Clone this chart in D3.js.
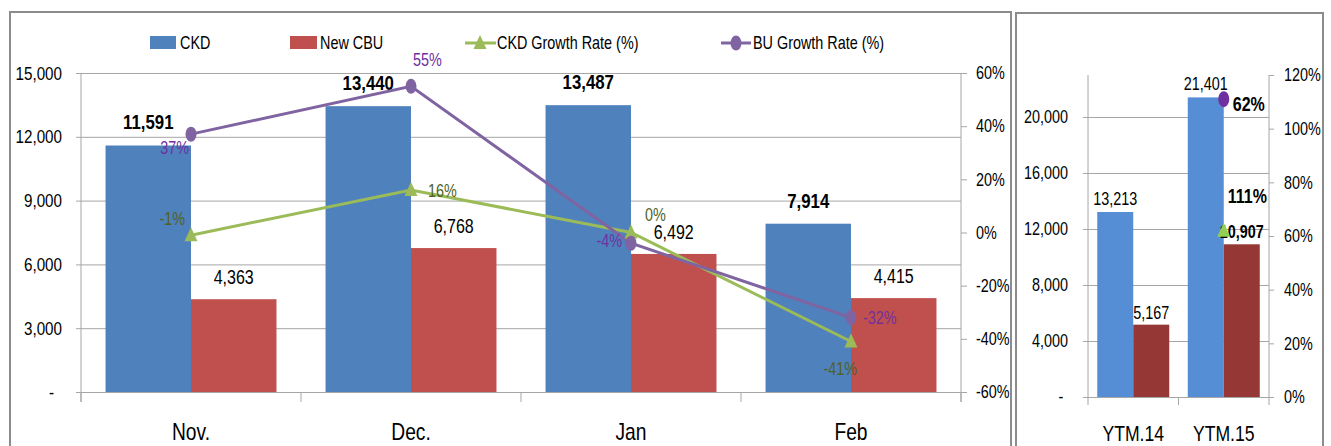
<!doctype html>
<html lang="en">

<head>
    <meta charset="utf-8">
    <title>CKD / New CBU monthly and YTM</title>
    <script src="https://cdn.jsdelivr.net/npm/d3@7"></script>
    <style>
        body {
            margin: 0;
            background: #ffffff;
        }

        svg {
            display: block;
            font-family: "Liberation Sans", Arial, sans-serif;
        }
    </style>
</head>

<body>
    <svg></svg>
    <script>
        var width = 1331;
        var height = 446;
        // the original uses a narrow font, so every text gets squeezed horizontally
        var squeezeX = 0.8;

        // monthly panel
        var categories = ["Nov.", "Dec.", "Jan", "Feb"];
        var ckd = [11591, 13440, 13487, 7914];
        var newCbu = [4363, 6768, 6492, 4415];
        var ckdGrowth = [-1, 16, 0, -41];
        var buGrowth = [37, 55, -4, -32];
        var leftTicks = [0, 3000, 6000, 9000, 12000, 15000];
        var rightTicks = [-60, -40, -20, 0, 20, 40, 60];
        var legendLabels = ["CKD", "New CBU", "CKD Growth Rate (%)", "BU Growth Rate (%)"];

        // year-to-month panel
        var ytmCategories = ["YTM.14", "YTM.15"];
        var ytmCkd = [13213, 21401];
        var ytmCbu = [5167, 10907];
        var ytmCkdGrowth = 62;
        var ytmBuGrowth = 111;
        var ytmLeftTicks = [0, 4000, 8000, 12000, 16000, 20000];
        var ytmRightTicks = [0, 20, 40, 60, 80, 100, 120];

        var numFmt = function (d) { return d === 0 ? "-" : d3.format(",")(d); };
        var pctFmt = function (d) { return d + "%"; };

        var svg = d3.select('svg').attr('width', width).attr('height', height);

        // panel frames
        svg.append("rect").attr("x", 10).attr("y", 12).attr("width", 1001).attr("height", 450)
            .attr("fill", "none").attr("stroke", "#8c8c8c").attr("stroke-width", 2);
        svg.append("rect").attr("x", 1016).attr("y", 13).attr("width", 307).attr("height", 450)
            .attr("fill", "none").attr("stroke", "#8c8c8c").attr("stroke-width", 2);

        // ---------- monthly panel ----------
        var xScale = d3.scaleBand().domain(categories).range([81, 961]);
        var xInner = d3.scaleBand().domain(["ckd", "cbu"]).range([0, xScale.bandwidth()])
            .paddingInner(0).paddingOuter(0.287);
        var yScale = d3.scaleLinear().domain([0, 15000]).range([392, 73]);
        var yRight = d3.scaleLinear().domain([-60, 60]).range([392, 73]);

        // gridlines
        svg.append("g")
            .attr("transform", "translate(81,0)")
            .call(d3.axisLeft(yScale).tickValues(leftTicks).tickSize(-880).tickFormat(""))
            .call(function (g) { g.select(".domain").remove(); })
            .selectAll("line").attr("stroke", "#a6a6a6");

        // left axis
        var gLeft = svg.append("g")
            .attr("transform", "translate(81,0)")
            .call(d3.axisLeft(yScale).tickValues(leftTicks).tickSize(5).tickPadding(14).tickFormat(numFmt));
        gLeft.select(".domain").remove();
        gLeft.selectAll("line").attr("stroke", "#a6a6a6");
        gLeft.selectAll("text").attr("font-size", "19px").attr("fill", "#000")
            .attr("font-family", null)
            .attr("dx", function (d) { return d === 0 ? -10 : 0; });

        svg.append("line").attr("x1", 81).attr("x2", 81).attr("y1", 73).attr("y2", 402)
            .attr("stroke", "#a6a6a6");

        // right axis
        var gRight = svg.append("g")
            .attr("transform", "translate(961,0)")
            .call(d3.axisRight(yRight).tickValues(rightTicks).tickSize(6).tickPadding(9).tickFormat(pctFmt));
        gRight.select(".domain").remove();
        gRight.selectAll("line").attr("stroke", "#a6a6a6");
        gRight.selectAll("text").attr("font-size", "18px").attr("fill", "#000").attr("font-family", null);
        svg.append("line").attr("x1", 961).attr("x2", 961).attr("y1", 73).attr("y2", 402)
            .attr("stroke", "#a6a6a6");

        // category axis: labels at centres, ticks at band edges
        var gBottom = svg.append("g")
            .attr("transform", "translate(0,392)")
            .call(d3.axisBottom(xScale).tickSize(0).tickPadding(31));
        gBottom.select(".domain").remove();
        gBottom.selectAll("text").attr("font-size", "24px").attr("fill", "#000").attr("font-family", null);
        var edges = categories.map(function (c) { return xScale(c); }).concat([xScale.range()[1]]);
        svg.selectAll(".catTick")
            .data(edges)
            .enter()
            .append("line")
            .attr("class", "catTick")
            .attr("x1", function (d) { return d; })
            .attr("x2", function (d) { return d; })
            .attr("y1", 392)
            .attr("y2", 402)
            .attr("stroke", "#a6a6a6");

        // bars
        svg.selectAll(".ckdBar")
            .data(ckd)
            .enter()
            .append("rect")
            .attr("class", "ckdBar")
            .attr("x", function (d, i) { return xScale(categories[i]) + xInner("ckd"); })
            .attr("y", function (d) { return yScale(d); })
            .attr("width", xInner.bandwidth())
            .attr("height", function (d) { return yScale(0) - yScale(d); })
            .attr("fill", "#4f81bd");

        svg.selectAll(".cbuBar")
            .data(newCbu)
            .enter()
            .append("rect")
            .attr("class", "cbuBar")
            .attr("x", function (d, i) { return xScale(categories[i]) + xInner("cbu"); })
            .attr("y", function (d) { return yScale(d); })
            .attr("width", xInner.bandwidth())
            .attr("height", function (d) { return yScale(0) - yScale(d); })
            .attr("fill", "#c0504d");

        // bar labels
        svg.selectAll(".ckdLabel")
            .data(ckd)
            .enter()
            .append("text")
            .attr("class", "ckdLabel")
            .text(numFmt)
            .attr("x", function (d, i) { return xScale(categories[i]) + xInner("ckd") + xInner.bandwidth() / 2; })
            .attr("y", function (d) { return yScale(d) - 16; })
            .attr("text-anchor", "middle")
            .attr("font-size", "21px")
            .attr("font-weight", "bold")
            .attr("fill", "#000");

        svg.selectAll(".cbuLabel")
            .data(newCbu)
            .enter()
            .append("text")
            .attr("class", "cbuLabel")
            .text(numFmt)
            .attr("x", function (d, i) { return xScale(categories[i]) + xInner("cbu") + xInner.bandwidth() / 2; })
            .attr("y", function (d) { return yScale(d) - 15; })
            .attr("text-anchor", "middle")
            .attr("font-size", "20px")
            .attr("fill", "#000");

        // growth lines
        var xMid = function (i) { return xScale(categories[i]) + xScale.bandwidth() / 2; };
        var line = d3.line()
            .x(function (d, i) { return xMid(i); })
            .y(function (d) { return yRight(d); });

        svg.append("path").datum(ckdGrowth).attr("d", line)
            .attr("fill", "none").attr("stroke", "#9bbb59").attr("stroke-width", 3);
        svg.append("path").datum(buGrowth).attr("d", line)
            .attr("fill", "none").attr("stroke", "#8064a2").attr("stroke-width", 3);

        var triangle = function (cx, cy) {
            return "M" + cx + "," + (cy - 8) + "L" + (cx + 6.5) + "," + (cy + 6) + "L" + (cx - 6.5) + "," + (cy + 6) + "Z";
        };

        svg.selectAll(".ckdMark")
            .data(ckdGrowth)
            .enter()
            .append("path")
            .attr("class", "ckdMark")
            .attr("d", function (d, i) { return triangle(xMid(i), yRight(d)); })
            .attr("fill", "#9bbb59");

        svg.selectAll(".buMark")
            .data(buGrowth)
            .enter()
            .append("ellipse")
            .attr("class", "buMark")
            .attr("cx", function (d, i) { return xMid(i); })
            .attr("cy", function (d) { return yRight(d); })
            .attr("rx", 5.5)
            .attr("ry", 7.5)
            .attr("fill", "#8064a2");

        // label placement around each point: [dx, dy, anchor]
        var buLabelPos = [[-2, 20, "end"], [2, -20, "start"], [-9, 4, "end"], [12, 6, "start"]];
        var ckdLabelPos = [[-6, -10, "end"], [17, 7, "start"], [14, -12, "start"], [6, 34, "end"]];

        svg.selectAll(".buPct")
            .data(buGrowth)
            .enter()
            .append("text")
            .attr("class", "buPct")
            .text(pctFmt)
            .attr("x", function (d, i) { return xMid(i) + buLabelPos[i][0]; })
            .attr("y", function (d, i) { return yRight(d) + buLabelPos[i][1]; })
            .attr("text-anchor", function (d, i) { return buLabelPos[i][2]; })
            .attr("font-size", "18px")
            .attr("fill", "#7030a0");

        svg.selectAll(".ckdPct")
            .data(ckdGrowth)
            .enter()
            .append("text")
            .attr("class", "ckdPct")
            .text(pctFmt)
            .attr("x", function (d, i) { return xMid(i) + ckdLabelPos[i][0]; })
            .attr("y", function (d, i) { return yRight(d) + ckdLabelPos[i][1]; })
            .attr("text-anchor", function (d, i) { return ckdLabelPos[i][2]; })
            .attr("font-size", "18px")
            .attr("fill", "#4f6228");

        // legend
        var legend = svg.append("g").attr("font-size", "18px");
        legend.append("rect").attr("x", 150).attr("y", 36).attr("width", 26).attr("height", 13).attr("fill", "#4f81bd");
        legend.append("text").attr("x", 180).attr("y", 49).text(legendLabels[0]);
        legend.append("rect").attr("x", 290).attr("y", 36).attr("width", 27).attr("height", 13).attr("fill", "#c0504d");
        legend.append("text").attr("x", 320).attr("y", 49).text(legendLabels[1]);
        legend.append("line").attr("x1", 465).attr("x2", 496).attr("y1", 43).attr("y2", 43)
            .attr("stroke", "#9bbb59").attr("stroke-width", 3);
        legend.append("path").attr("d", triangle(480, 43)).attr("fill", "#9bbb59");
        legend.append("text").attr("x", 497).attr("y", 49).text(legendLabels[2]);
        legend.append("line").attr("x1", 721).attr("x2", 751).attr("y1", 43).attr("y2", 43)
            .attr("stroke", "#8064a2").attr("stroke-width", 3);
        legend.append("ellipse").attr("cx", 736).attr("cy", 43).attr("rx", 5.5).attr("ry", 7.5).attr("fill", "#8064a2");
        legend.append("text").attr("x", 753).attr("y", 49).text(legendLabels[3]);

        // ---------- YTM panel ----------
        var x2 = d3.scaleBand().domain(ytmCategories).range([1088, 1269]);
        var x2Inner = d3.scaleBand().domain(["ckd", "cbu"]).range([0, x2.bandwidth()])
            .paddingInner(0).paddingOuter(0.257);
        var y2 = d3.scaleLinear().domain([0, 23000]).range([397, 75]);
        var y2Right = d3.scaleLinear().domain([0, 120]).range([397, 75]);

        svg.append("g")
            .attr("transform", "translate(1088,0)")
            .call(d3.axisLeft(y2).tickValues(ytmLeftTicks).tickSize(-181).tickFormat(""))
            .call(function (g) { g.select(".domain").remove(); })
            .selectAll("line").attr("stroke", "#a6a6a6");

        var g2Left = svg.append("g")
            .attr("transform", "translate(1088,0)")
            .call(d3.axisLeft(y2).tickValues(ytmLeftTicks).tickSize(5).tickPadding(15).tickFormat(numFmt));
        g2Left.select(".domain").remove();
        g2Left.selectAll("line").attr("stroke", "#a6a6a6");
        g2Left.selectAll("text").attr("font-size", "18px").attr("fill", "#000").attr("font-family", null)
            .attr("dx", function (d) { return d === 0 ? -6 : 0; });
        svg.append("line").attr("x1", 1088).attr("x2", 1088).attr("y1", 75).attr("y2", 405)
            .attr("stroke", "#a6a6a6");

        var g2Right = svg.append("g")
            .attr("transform", "translate(1269,0)")
            .call(d3.axisRight(y2Right).tickValues(ytmRightTicks).tickSize(5).tickPadding(10).tickFormat(pctFmt));
        g2Right.select(".domain").remove();
        g2Right.selectAll("line").attr("stroke", "#a6a6a6");
        g2Right.selectAll("text").attr("font-size", "18px").attr("fill", "#000").attr("font-family", null);
        svg.append("line").attr("x1", 1269).attr("x2", 1269).attr("y1", 75).attr("y2", 405)
            .attr("stroke", "#a6a6a6");

        var g2Bottom = svg.append("g")
            .attr("transform", "translate(0,397)")
            .call(d3.axisBottom(x2).tickSize(0).tickPadding(28));
        g2Bottom.select(".domain").remove();
        g2Bottom.selectAll("text").attr("font-size", "22px").attr("fill", "#000").attr("font-family", null);
        svg.append("line").attr("x1", x2(ytmCategories[1])).attr("x2", x2(ytmCategories[1]))
            .attr("y1", 397).attr("y2", 405).attr("stroke", "#a6a6a6");

        svg.selectAll(".ytmCkdBar")
            .data(ytmCkd)
            .enter()
            .append("rect")
            .attr("class", "ytmCkdBar")
            .attr("x", function (d, i) { return x2(ytmCategories[i]) + x2Inner("ckd"); })
            .attr("y", function (d) { return y2(d); })
            .attr("width", x2Inner.bandwidth())
            .attr("height", function (d) { return y2(0) - y2(d); })
            .attr("fill", "#558ed5");

        svg.selectAll(".ytmCbuBar")
            .data(ytmCbu)
            .enter()
            .append("rect")
            .attr("class", "ytmCbuBar")
            .attr("x", function (d, i) { return x2(ytmCategories[i]) + x2Inner("cbu"); })
            .attr("y", function (d) { return y2(d); })
            .attr("width", x2Inner.bandwidth())
            .attr("height", function (d) { return y2(0) - y2(d); })
            .attr("fill", "#953735");

        svg.selectAll(".ytmCkdLabel")
            .data(ytmCkd)
            .enter()
            .append("text")
            .attr("class", "ytmCkdLabel")
            .text(numFmt)
            .attr("x", function (d, i) { return x2(ytmCategories[i]) + x2Inner("ckd") + x2Inner.bandwidth() / 2; })
            .attr("y", function (d) { return y2(d) - 7; })
            .attr("text-anchor", "middle")
            .attr("font-size", "18px")
            .attr("fill", "#000");

        svg.selectAll(".ytmCbuLabel")
            .data(ytmCbu)
            .enter()
            .append("text")
            .attr("class", "ytmCbuLabel")
            .text(numFmt)
            .attr("x", function (d, i) { return x2(ytmCategories[i]) + x2Inner("cbu") + x2Inner.bandwidth() / 2; })
            .attr("y", function (d) { return y2(d) - 6; })
            .attr("text-anchor", "middle")
            .attr("font-size", "18px")
            .attr("font-weight", function (d, i) { return i === 1 ? "bold" : "normal"; })
            .attr("fill", "#000");

        // YTM growth markers sit on the YTM.15 category; labels were moved by hand in the original
        var x2Mid = x2(ytmCategories[1]) + x2.bandwidth() / 2;
        svg.append("path").attr("d", triangle(x2Mid, y2Right(ytmCkdGrowth))).attr("fill", "#92d050");
        svg.append("ellipse").attr("cx", x2Mid).attr("cy", y2Right(ytmBuGrowth))
            .attr("rx", 5.5).attr("ry", 8).attr("fill", "#7030a0");
        svg.append("text").text(pctFmt(ytmCkdGrowth))
            .attr("x", x2Mid + 9).attr("y", y2Right(ytmBuGrowth) + 12)
            .attr("font-size", "20px").attr("font-weight", "bold").attr("fill", "#000");
        svg.append("text").text(pctFmt(ytmBuGrowth))
            .attr("x", x2Mid + 4).attr("y", y2Right(ytmCkdGrowth) - 28)
            .attr("font-size", "20px").attr("font-weight", "bold").attr("fill", "#000");

        // squeeze every text around its own anchor point
        svg.selectAll("text").each(function () {
            var t = d3.select(this);
            var x = +t.attr("x") || 0;
            var y = +t.attr("y") || 0;
            t.attr("x", 0).attr("y", 0)
                .attr("transform", "translate(" + x + "," + y + ") scale(" + squeezeX + ",1)");
        });
    </script>

</body>

</html>
